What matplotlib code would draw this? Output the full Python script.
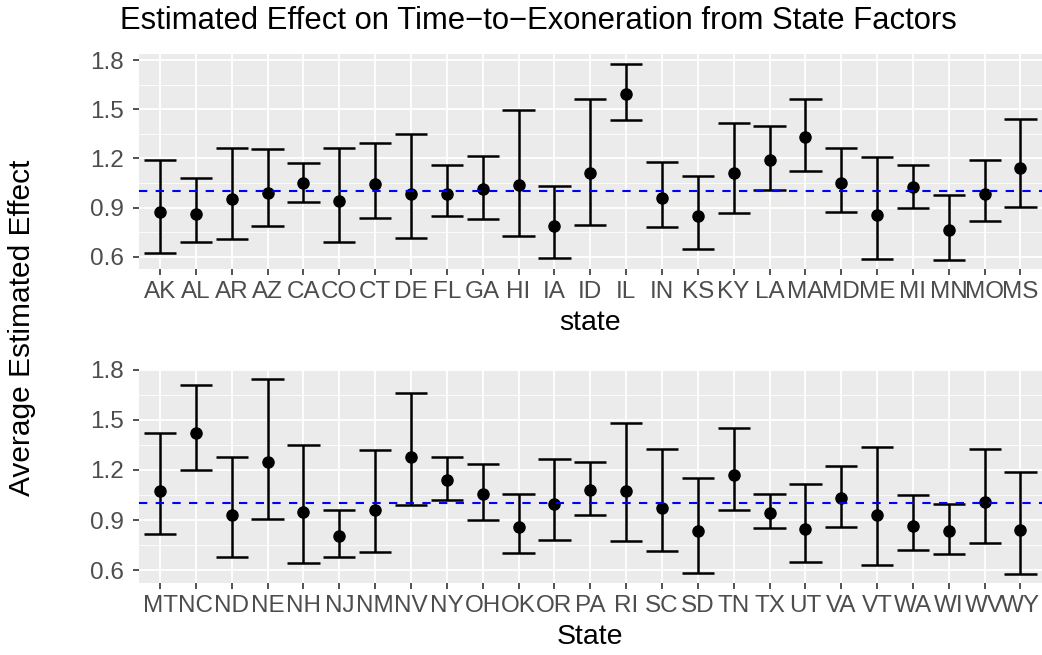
import matplotlib
matplotlib.use("Agg")
import matplotlib.pyplot as plt
from matplotlib.ticker import MultipleLocator

plt.rcParams["font.family"] = ["Liberation Sans", "DejaVu Sans"]

# first half of the states (alphabetical)
states_top = ["AK", "AL", "AR", "AZ", "CA", "CO", "CT", "DE", "FL", "GA", "HI", "IA", "ID",
              "IL", "IN", "KS", "KY", "LA", "MA", "MD", "ME", "MI", "MN", "MO", "MS"]
est_top = [0.872, 0.859, 0.953, 0.988, 1.049, 0.941, 1.045, 0.986, 0.986, 1.012, 1.036, 0.786, 1.112,
           1.592, 0.959, 0.849, 1.110, 1.189, 1.330, 1.051, 0.853, 1.024, 0.762, 0.982, 1.139]
lower_top = [0.623, 0.688, 0.709, 0.786, 0.935, 0.691, 0.839, 0.717, 0.847, 0.831, 0.727, 0.593, 0.796,
             1.436, 0.782, 0.648, 0.864, 1.006, 1.122, 0.874, 0.584, 0.900, 0.583, 0.819, 0.902]
upper_top = [1.193, 1.079, 1.262, 1.259, 1.171, 1.265, 1.297, 1.350, 1.157, 1.218, 1.495, 1.033, 1.562,
             1.778, 1.177, 1.092, 1.417, 1.399, 1.560, 1.261, 1.210, 1.161, 0.974, 1.189, 1.442]

# second half
states_bottom = ["MT", "NC", "ND", "NE", "NH", "NJ", "NM", "NV", "NY", "OH", "OK", "OR", "PA",
                 "RI", "SC", "SD", "TN", "TX", "UT", "VA", "VT", "WA", "WI", "WV", "WY"]
est_bottom = [1.077, 1.418, 0.933, 1.246, 0.949, 0.808, 0.958, 1.275, 1.141, 1.056, 0.859, 0.996, 1.079,
              1.075, 0.970, 0.834, 1.170, 0.944, 0.846, 1.032, 0.933, 0.867, 0.834, 1.006, 0.842]
lower_bottom = [0.820, 1.198, 0.679, 0.907, 0.645, 0.677, 0.711, 0.992, 1.022, 0.903, 0.705, 0.780, 0.933,
                0.776, 0.713, 0.584, 0.958, 0.852, 0.650, 0.861, 0.632, 0.721, 0.695, 0.763, 0.581]
upper_bottom = [1.420, 1.707, 1.279, 1.745, 1.349, 0.958, 1.321, 1.660, 1.275, 1.238, 1.054, 1.265, 1.247,
                1.483, 1.323, 1.149, 1.448, 1.057, 1.117, 1.224, 1.337, 1.051, 0.998, 1.327, 1.190]

W, H = 1042, 655


def add_panel(fig, top_px, bottom_px):
    left, right = 138.5, 1042
    return fig.add_axes([left / W, 1 - bottom_px / H, (right - left) / W, (bottom_px - top_px) / H])


def draw_panel(ax, states, est, lower, upper, xlabel):
    x = list(range(len(states)))
    ax.set_facecolor("#EBEBEB")
    for s in ax.spines.values():
        s.set_visible(False)

    ax.vlines(x, lower, upper, color="black", lw=1.8)
    ax.hlines(lower, [i - 0.45 for i in x], [i + 0.45 for i in x], color="black", lw=1.8)
    ax.hlines(upper, [i - 0.45 for i in x], [i + 0.45 for i in x], color="black", lw=1.8)
    ax.plot(x, est, "o", color="black", ms=8)
    ax.axhline(1.0, color="blue", lw=1.5, ls=(0, (4, 4)))

    lo, hi = min(lower), max(upper)
    pad = 0.05 * (hi - lo)
    ax.set_ylim(lo - pad, hi + pad)
    ax.set_xlim(-0.6, len(states) - 0.4)

    ax.set_xticks(x)
    ax.set_xticklabels(states)
    ax.yaxis.set_major_locator(MultipleLocator(0.3))
    ax.yaxis.set_minor_locator(MultipleLocator(0.15))
    ax.yaxis.set_major_formatter(plt.FuncFormatter(lambda v, p: f"{v:.1f}"))

    ax.set_axisbelow(True)
    ax.grid(which="major", color="white", lw=1.3)
    ax.grid(which="minor", axis="y", color="white", lw=0.6)
    ax.tick_params(which="major", length=4.5, width=1.2, color="#333333",
                   labelsize=17.5, labelcolor="#4D4D4D", pad=4)
    ax.tick_params(axis="y", pad=5.8)
    ax.tick_params(which="minor", length=0)
    ax.set_xlabel(xlabel, fontsize=20.5, color="black", labelpad=5)


fig = plt.figure(figsize=(W / 100, H / 100), dpi=100)
ax1 = add_panel(fig, 54, 269.3)
ax2 = add_panel(fig, 369, 583.3)
draw_panel(ax1, states_top, est_top, lower_top, upper_top, "state")
draw_panel(ax2, states_bottom, est_bottom, lower_bottom, upper_bottom, "State")

fig.text(538 / W, 1 - 21 / H, "Estimated Effect on Time\u2212to\u2212Exoneration from State Factors",
         ha="center", va="center", fontsize=22.3)
fig.text(22 / W, 0.5, "Average Estimated Effect", rotation=90,
         ha="center", va="center", fontsize=21.5)

fig.savefig("out.png", dpi=100)
